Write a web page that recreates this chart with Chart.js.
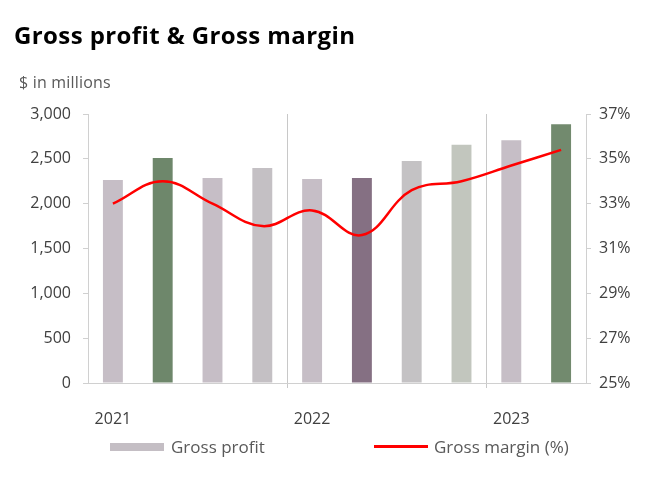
<!DOCTYPE html>
<html>
<head>
<meta charset="utf-8">
<script src="https://cdn.jsdelivr.net/npm/chart.js@4"></script>
<style>
    body { margin: 0; background: #fff; font-family: "Open Sans", sans-serif; }
    #wrap { position: relative; width: 671px; height: 492px; }
    #boxChart { position: absolute; left: 0; top: 0; }
    .title { position: absolute; left: 14px; top: 18px; font-size: 24px; font-weight: 700; color: #000; letter-spacing: 0.4px; }
    .sub { position: absolute; left: 19px; top: 71px; font-size: 16px; color: #595959; letter-spacing: 0.2px; }
    .leg { position: absolute; top: 435px; font-size: 17px; color: #595959; display: flex; align-items: center; }
    .patch { width: 54px; height: 8px; background: #c4bec4; margin-right: 7px; }
    .redline { width: 54px; height: 3px; background: #ff0000; margin-right: 6px; }
</style>
</head>
<body>
<div id="wrap">
    <canvas id="boxChart" width="671" height="492"></canvas>
    <div class="title">Gross profit &amp; Gross margin</div>
    <div class="sub">$ in millions</div>
    <div class="leg" style="left:110px"><span class="patch"></span>Gross profit</div>
    <div class="leg" style="left:374px"><span class="redline"></span>Gross margin (%)</div>
</div>
<script>
const quarters = ['2021', '', '', '', '2022', '', '', '', '2023', ''];
const grossProfit = [2265, 2509, 2287, 2398, 2276, 2287, 2476, 2656, 2708, 2886];
const grossMargin = [33.0, 34.0, 33.0, 32.0, 32.7, 31.6, 33.6, 34.0, 34.7, 35.4];
const barColors = ['#c6bec6', '#6e876b', '#c6bec6', '#c4c0c4', '#c6bec6', '#857083', '#c4c2c4', '#c2c6be', '#c6bec6', '#728a6e'];
const separatorIdx = [4, 8];

const axisGray = '#d0d0d0';
const tickFont = { family: 'Open Sans', size: 16 };

const ctx = document.getElementById('boxChart');
new Chart(ctx, {
    data: {
        labels: quarters,
        datasets: [
            {
                type: 'line',
                label: 'Gross margin (%)',
                data: grossMargin,
                yAxisID: 'y1',
                borderColor: '#ff0000',
                backgroundColor: '#ff0000',
                borderWidth: 2.5,
                pointRadius: 0,
                tension: 0.4,
                order: 0
            },
            {
                type: 'bar',
                label: 'Gross profit',
                data: grossProfit,
                yAxisID: 'y',
                backgroundColor: barColors,
                barPercentage: 0.4,
                categoryPercentage: 1,
                order: 1
            }
        ]
    },
    options: {
        responsive: false,
        animation: false,
        layout: { padding: { top: 114, left: 0, right: 0, bottom: 0 } },
        plugins: {
            legend: { display: false },
            tooltip: { enabled: false }
        },
        scales: {
            x: {
                afterFit: (scale) => { scale.height = 109; },
                border: { color: axisGray },
                grid: {
                    offset: true,
                    drawOnChartArea: true,
                    tickLength: 5,
                    color: (c) => separatorIdx.includes(c.index) ? '#c8c8c8' : 'rgba(0,0,0,0)'
                },
                ticks: {
                    autoSkip: false,
                    maxRotation: 0,
                    padding: 22,
                    color: '#404040',
                    font: tickFont
                }
            },
            y: {
                position: 'left',
                min: 0,
                max: 3000,
                afterFit: (scale) => { scale.width = 88; },
                border: { color: axisGray },
                grid: { drawOnChartArea: false, tickLength: 5, color: axisGray },
                ticks: {
                    stepSize: 500,
                    padding: 12,
                    color: '#404040',
                    font: tickFont,
                    callback: (v) => v.toLocaleString('en-US')
                }
            },
            y1: {
                position: 'right',
                min: 25,
                max: 37,
                afterFit: (scale) => { scale.width = 85; },
                border: { color: axisGray },
                grid: { drawOnChartArea: false, tickLength: 5, color: axisGray },
                ticks: {
                    stepSize: 2,
                    padding: 8,
                    color: '#404040',
                    font: tickFont,
                    callback: (v) => v + '%'
                }
            }
        }
    }
});
</script>
</body>
</html>
